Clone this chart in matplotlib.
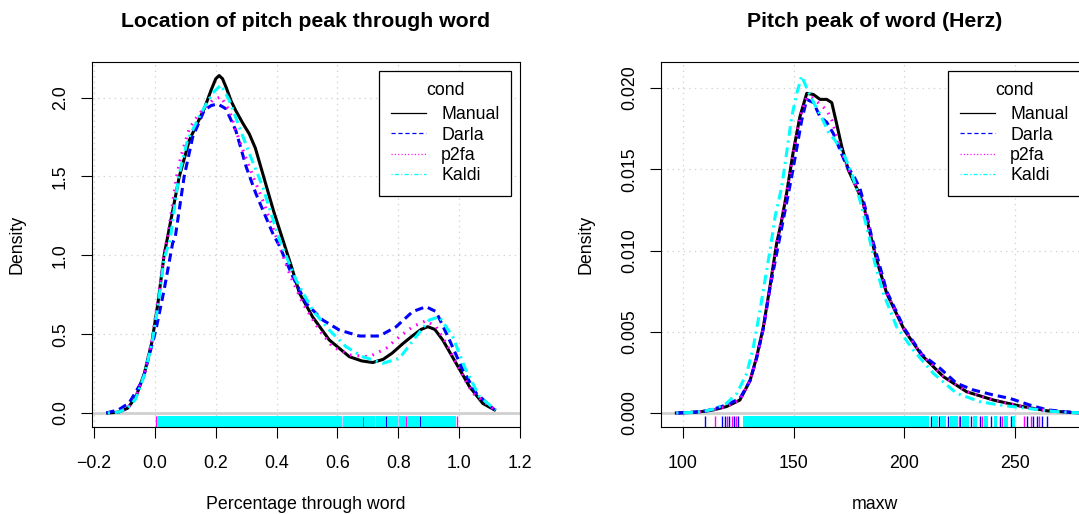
import matplotlib
matplotlib.use("Agg")
import matplotlib.pyplot as plt
from matplotlib.lines import Line2D

plt.rcParams['font.family'] = ['Liberation Sans', 'DejaVu Sans']
plt.rcParams['lines.scale_dashes'] = False

groups = ['Manual', 'Darla', 'p2fa', 'Kaldi']
colors = ['black', 'blue', 'magenta', 'cyan']

# ---- left panel: location of pitch peak (proportion through word)
loc_manual_x = [-0.155, -0.12, -0.09, -0.063, -0.035, -0.01, 0.01, 0.03, 0.05, 0.08, 0.113, 0.14, 0.162, 0.185,
                0.2, 0.211, 0.222, 0.235, 0.25, 0.265, 0.288, 0.31, 0.33, 0.354, 0.39, 0.42, 0.45, 0.475, 0.518,
                0.573, 0.639, 0.68, 0.716, 0.75, 0.78, 0.815, 0.847, 0.875, 0.897, 0.92, 0.946, 0.99, 1.034,
                1.078, 1.116]
loc_manual_y = [0.0, 0.005, 0.03, 0.10, 0.25, 0.45, 0.70, 1.0, 1.20, 1.50, 1.73, 1.84, 1.93, 2.05,
                2.12, 2.14, 2.12, 2.06, 1.98, 1.92, 1.84, 1.77, 1.68, 1.52, 1.28, 1.10, 0.92, 0.76, 0.61,
                0.463, 0.357, 0.33, 0.32, 0.34, 0.38, 0.44, 0.49, 0.53, 0.547, 0.53, 0.463, 0.315, 0.167,
                0.06, 0.02]
loc_darla_x = [-0.16, -0.12, -0.085, -0.04, 0.003, 0.03, 0.058, 0.067, 0.096, 0.124, 0.162, 0.185, 0.206, 0.233,
               0.266, 0.30, 0.332, 0.387, 0.409, 0.453, 0.497, 0.551, 0.606, 0.672, 0.738, 0.793, 0.847, 0.891,
               0.924, 0.968, 1.012, 1.056, 1.116]
loc_darla_y = [0.0, 0.02, 0.063, 0.21, 0.526, 0.78, 1.076, 1.12, 1.5, 1.75, 1.92, 1.95, 1.96, 1.93,
               1.79, 1.56, 1.39, 1.14, 1.06, 0.865, 0.695, 0.59, 0.526, 0.488, 0.488, 0.547, 0.643, 0.674,
               0.643, 0.463, 0.273, 0.125, 0.02]
loc_p2fa_x = [-0.155, -0.12, -0.09, -0.063, -0.035, -0.01, 0.01, 0.03, 0.042, 0.071, 0.085, 0.113, 0.146, 0.19,
              0.217, 0.244, 0.277, 0.31, 0.354, 0.398, 0.409, 0.445, 0.486, 0.54, 0.584, 0.639, 0.705, 0.76,
              0.793, 0.847, 0.891, 0.924, 0.957, 1.001, 1.045, 1.116]
loc_p2fa_y = [0.0, 0.005, 0.03, 0.10, 0.25, 0.46, 0.72, 1.02, 1.12, 1.5, 1.625, 1.805, 1.90, 1.985,
              2.005, 1.92, 1.73, 1.56, 1.35, 1.12, 1.06, 0.87, 0.695, 0.526, 0.42, 0.368, 0.357, 0.41,
              0.467, 0.547, 0.585, 0.547, 0.442, 0.273, 0.125, 0.02]
loc_kaldi_x = [-0.155, -0.12, -0.09, -0.063, -0.035, -0.01, 0.01, 0.03, 0.05, 0.078, 0.107, 0.151, 0.19, 0.217,
               0.244, 0.277, 0.31, 0.354, 0.409, 0.464, 0.518, 0.573, 0.628, 0.683, 0.749, 0.804, 0.858, 0.902,
               0.935, 0.979, 1.017, 1.067, 1.12]
loc_kaldi_y = [0.0, 0.005, 0.03, 0.09, 0.24, 0.44, 0.68, 0.98, 1.10, 1.5, 1.73, 1.90, 2.03, 2.08,
               1.985, 1.815, 1.647, 1.435, 1.10, 0.843, 0.653, 0.526, 0.42, 0.357, 0.315, 0.347, 0.484, 0.59,
               0.61, 0.484, 0.294, 0.103, 0.02]

# rug: dense runs of Kaldi values drawn as spans, single values of the other groups as ticks
loc_kaldi_rug_spans = [(0.006, 0.615), (0.619, 0.683), (0.687, 0.724), (0.727, 0.760), (0.763, 0.80),
                       (0.803, 0.824), (0.828, 0.87), (0.873, 0.99)]
loc_darla_rug = [0.006, 0.617, 0.725, 0.761, 0.801, 0.871]
loc_p2fa_rug = [0.003, 0.685, 0.826, 0.992]

# ---- right panel: pitch peak of word (Hz)
hz_manual_x = [97, 103, 109.2, 114, 119.7, 125.7, 130.3, 133.3, 136.3, 139.3, 142.3, 144.5, 146.8, 149.7, 152.8,
               155.9, 158.9, 161.9, 164.9, 167.2, 169.4, 171.7, 174.7, 178.5, 181.4, 184.5, 187.5, 192, 200,
               207.8, 217.6, 228.1, 240.2, 252.2, 264.3, 276.3, 282]
hz_manual_y = [0, 0.00003, 0.0001, 0.0002, 0.0004, 0.0008, 0.002, 0.00346, 0.0053, 0.0078, 0.01044, 0.0118,
               0.01352, 0.016, 0.01823, 0.01967, 0.0196, 0.0193, 0.0193, 0.0191, 0.0178, 0.0164, 0.01495,
               0.01383, 0.0129, 0.01106, 0.0094, 0.00737, 0.0051, 0.00357, 0.00224, 0.00131, 0.0008, 0.00043,
               0.00014, 0.00003, 0.00001]
hz_darla_x = [97, 103, 109.2, 114, 119.7, 125.7, 130.3, 133.3, 136.3, 139.3, 143.5, 149.1, 153.6, 155.9, 158.9,
              161.9, 164.9, 167.9, 170.9, 173.9, 176.9, 179.9, 182.2, 185.2, 188, 192, 200, 208, 216.1, 223.6,
              231.1, 240.2, 247.7, 256.7, 264.3, 276.3, 282]
hz_darla_y = [0, 0.00003, 0.0001, 0.00025, 0.0005, 0.0009, 0.002, 0.0034, 0.0052, 0.0077, 0.01065, 0.01454,
              0.018, 0.0193, 0.0191, 0.01823, 0.0179, 0.0172, 0.0162, 0.0152, 0.01465, 0.01383, 0.0127,
              0.01085, 0.0095, 0.0075, 0.0052, 0.0036, 0.00275, 0.00183, 0.00142, 0.00111, 0.0009, 0.00049,
              0.0002, 0.00003, 0.00001]
hz_p2fa_x = [97, 103, 109.2, 114, 119.7, 125.7, 130.3, 133.3, 136.3, 139.3, 142.3, 146.8, 149.7, 152.8, 155.9,
             158.5, 161, 164.9, 167.2, 170, 172.5, 175, 178.5, 181.4, 184.5, 187.5, 192, 200, 207.8, 217.6,
             228.1, 240.2, 252.2, 264.3, 276.3, 282]
hz_p2fa_y = [0, 0.00003, 0.0001, 0.0002, 0.0004, 0.0008, 0.002, 0.0034, 0.0052, 0.0077, 0.0104, 0.0135,
             0.0159, 0.0182, 0.01945, 0.0194, 0.0191, 0.01865, 0.01803, 0.0168, 0.0158, 0.0149, 0.0139,
             0.0129, 0.0111, 0.0094, 0.0074, 0.0051, 0.0036, 0.00225, 0.00132, 0.0008, 0.00043, 0.00014,
             0.00003, 0.00001]
hz_kaldi_x = [97, 103, 109.2, 114, 119.7, 124.3, 128.8, 131.8, 134.8, 137.8, 139.3, 141.6, 144.6, 146.8, 149.1,
              151.4, 153.6, 156.6, 159.6, 162.6, 165.6, 168.6, 172.4, 176.2, 179.9, 183.7, 186.7, 190.5, 196.5,
              204, 213.1, 223.6, 234.1, 243.2, 255.2, 267, 276, 282]
hz_kaldi_y = [0, 0.00003, 0.0001, 0.00025, 0.0006, 0.0012, 0.00244, 0.00408, 0.00634, 0.0088, 0.01, 0.01208,
              0.01393, 0.016, 0.01823, 0.01967, 0.02074, 0.01977, 0.01895, 0.0182, 0.0173, 0.0168, 0.016,
              0.01475, 0.0131, 0.01106, 0.0092, 0.00737, 0.0053, 0.00388, 0.00244, 0.00121, 0.0007, 0.00049,
              0.00029, 0.0001, 0.00003, 0.00001]

hz_kaldi_rug_spans = [(127, 211), (212.5, 215), (216, 219), (220.5, 224), (226, 229), (231, 233), (236, 238),
                      (240.5, 242), (245, 247), (248.5, 250)]
hz_darla_rug = [110, 117.5, 119, 121, 123, 125, 212, 215.5, 219.5, 225, 230, 234, 239, 243, 248,
                255.5, 258, 260, 262, 264.5]
hz_p2fa_rug = [114.5, 120, 122, 124, 224.5, 235, 244, 254, 257, 261]

# dash patterns for the curves and for the legend keys
curve_dash = [None, (6, 3.6), (1.2, 4.3), (1.5, 3.5, 7, 3.5)]
key_dash = [None, (3, 2), (0.8, 1.6), (0.8, 1.6, 3, 1.6)]

fig = plt.figure(figsize=(10.79, 5.14), dpi=100)
W, H = 1079, 514
ax1 = fig.add_axes([92 / W, 1 - 427 / H, 428 / W, 365 / H])
ax2 = fig.add_axes([661 / W, 1 - 427 / H, 428 / W, 365 / H])

FS = 12.75


def draw_panel(ax, xs, ys, spans, darla_rug, p2fa_rug, xlim, ylim, xticks, yticks, yfmt, title, xlabel):
    ax.set_xlim(*xlim)
    ax.set_ylim(*ylim)
    ax.set_xticks(xticks)
    ax.set_yticks(yticks)
    ax.set_yticklabels([yfmt.format(v) for v in yticks], rotation=90, va='center')
    ax.grid(True, color='#d3d3d3', linestyle=(0, (1, 3)), linewidth=0.9)
    ax.set_axisbelow(True)
    ax.axhline(0, color='#d0d0d0', linewidth=2.0, zorder=1)
    for x, y, c, d in zip(xs, ys, colors, curve_dash):
        line, = ax.plot(x, y, color=c, linewidth=2.2, zorder=3)
        if d is not None:
            line.set_dashes(d)
    tr = ax.get_xaxis_transform()
    ax.vlines(darla_rug, 0, 0.03, colors='blue', linewidth=1.0, transform=tr, zorder=2)
    ax.vlines(p2fa_rug, 0, 0.03, colors='magenta', linewidth=1.0, transform=tr, zorder=2)
    for a, b in spans:
        ax.axvspan(a, b, ymin=0, ymax=0.03, color='cyan', linewidth=0, zorder=2)
    ax.tick_params(axis='both', direction='out', length=8, width=0.8, labelsize=FS)
    ax.tick_params(axis='x', pad=12.5)
    ax.tick_params(axis='y', pad=8.5)
    for s in ax.spines.values():
        s.set_linewidth(0.8)
    ax.set_title(title, fontsize=FS * 1.2, fontweight='bold', pad=25)
    ax.set_xlabel(xlabel, fontsize=FS, labelpad=17)
    ax.set_ylabel('Density', fontsize=FS, labelpad=19)
    handles = []
    for c, d in zip(colors, key_dash):
        h = Line2D([], [], color=c, linewidth=0.9)
        if d is not None:
            h.set_dashes(d)
        handles.append(h)
    leg = ax.legend(handles, groups, title='cond', loc='upper right', fontsize=FS, title_fontsize=FS,
                    fancybox=False, edgecolor='black', framealpha=1, borderaxespad=0.5,
                    handlelength=2.0, handletextpad=0.85, labelspacing=0.19, borderpad=0.65)
    leg.get_frame().set_linewidth(0.9)
    leg._legend_box.sep = 5


draw_panel(ax1, [loc_manual_x, loc_darla_x, loc_p2fa_x, loc_kaldi_x],
           [loc_manual_y, loc_darla_y, loc_p2fa_y, loc_kaldi_y],
           loc_kaldi_rug_spans, loc_darla_rug, loc_p2fa_rug,
           (-0.207, 1.2), (-0.089, 2.226),
           [-0.2, 0.0, 0.2, 0.4, 0.6, 0.8, 1.0, 1.2], [0.0, 0.5, 1.0, 1.5, 2.0], '{:.1f}',
           'Location of pitch peak through word', 'Percentage through word')

draw_panel(ax2, [hz_manual_x, hz_darla_x, hz_p2fa_x, hz_kaldi_x],
           [hz_manual_y, hz_darla_y, hz_p2fa_y, hz_kaldi_y],
           hz_kaldi_rug_spans, hz_darla_rug, hz_p2fa_rug,
           (90.06, 283.4), (-0.00086, 0.0216),
           [100, 150, 200, 250], [0.0, 0.005, 0.010, 0.015, 0.020], '{:.3f}',
           'Pitch peak of word (Herz)', 'maxw')

fig.savefig('out.png', dpi=100)
